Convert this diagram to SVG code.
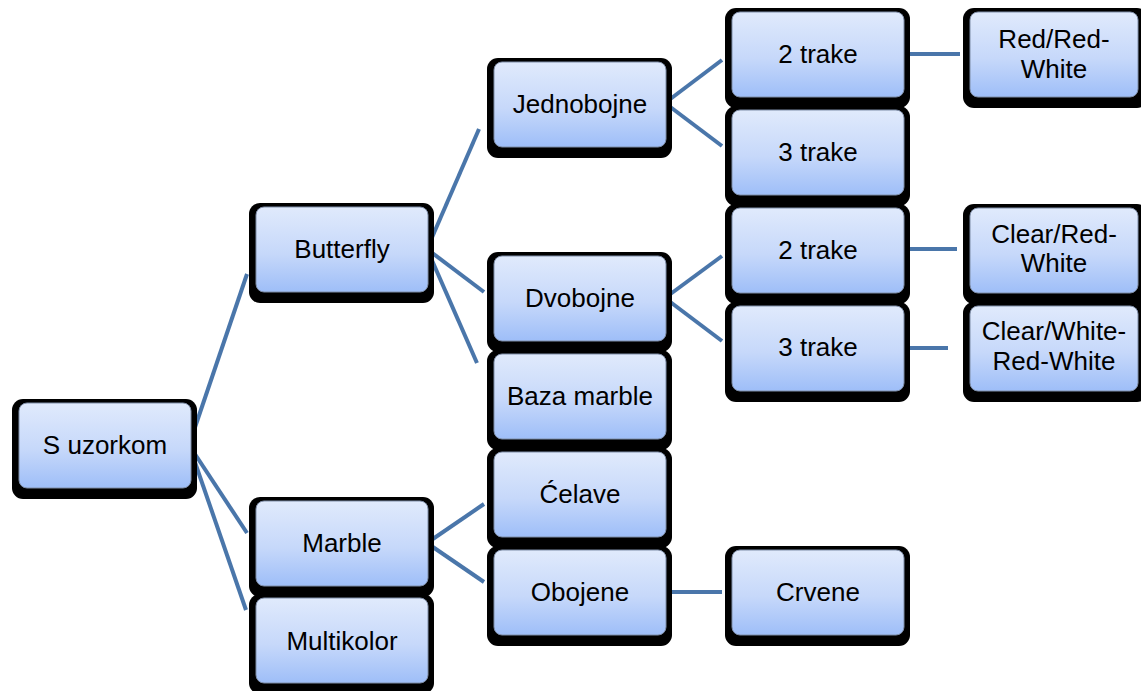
<svg xmlns="http://www.w3.org/2000/svg" width="1141" height="691" viewBox="0 0 1141 691">
<defs>
<linearGradient id="g" x1="0" y1="0" x2="0" y2="1">
<stop offset="0" stop-color="#e0eafc"/>
<stop offset="0.55" stop-color="#c6d8fa"/>
<stop offset="1" stop-color="#9ebef8"/>
</linearGradient>
<style>
.sh{fill:#000;}
.box{fill:url(#g);stroke:#7f8ea8;stroke-width:1;}
.t{font-family:"Liberation Sans",Arial,sans-serif;font-size:26px;fill:#000;text-anchor:middle;}
.c{stroke:#4a76aa;stroke-width:4;fill:none;stroke-linecap:butt;}
</style>
</defs>
<rect width="1141" height="691" fill="#fff"/>
<g id="connectors">
<line class="c" x1="189" y1="445" x2="247" y2="274"/>
<line class="c" x1="189" y1="445" x2="247" y2="533"/>
<line class="c" x1="189" y1="445" x2="246" y2="610"/>
<line class="c" x1="427" y1="249" x2="479" y2="129"/>
<line class="c" x1="427" y1="249" x2="484" y2="292"/>
<line class="c" x1="427" y1="249" x2="477" y2="363"/>
<line class="c" x1="427" y1="543" x2="484" y2="504"/>
<line class="c" x1="427" y1="543" x2="484" y2="582"/>
<line class="c" x1="665" y1="103" x2="722" y2="60"/>
<line class="c" x1="665" y1="103" x2="722" y2="146"/>
<line class="c" x1="665" y1="298" x2="722" y2="256"/>
<line class="c" x1="665" y1="298" x2="722" y2="341"/>
<line class="c" x1="904" y1="54" x2="960" y2="54"/>
<line class="c" x1="904" y1="249" x2="957" y2="249"/>
<line class="c" x1="904" y1="348" x2="948" y2="348"/>
<line class="c" x1="666" y1="592" x2="722" y2="592"/>
</g>
<g id="n-suzorkom"><rect class="sh" x="12" y="399" width="185" height="100" rx="11"/><rect class="box" x="19" y="403" width="172" height="85" rx="8"/><text class="t" x="105" y="454">S uzorkom</text></g>
<g id="n-butterfly"><rect class="sh" x="249" y="203" width="185" height="100" rx="11"/><rect class="box" x="256" y="207" width="172" height="85" rx="8"/><text class="t" x="342" y="258">Butterfly</text></g>
<g id="n-marble"><rect class="sh" x="249" y="497" width="185" height="100" rx="11"/><rect class="box" x="256" y="501" width="172" height="85" rx="8"/><text class="t" x="342" y="552">Marble</text></g>
<g id="n-multikolor"><rect class="sh" x="249" y="594" width="185" height="100" rx="11"/><rect class="box" x="256" y="598" width="172" height="85" rx="8"/><text class="t" x="342" y="650">Multikolor</text></g>
<g id="n-jednobojne"><rect class="sh" x="487" y="58" width="185" height="100" rx="11"/><rect class="box" x="494" y="62" width="172" height="85" rx="8"/><text class="t" x="580" y="113">Jednobojne</text></g>
<g id="n-dvobojne"><rect class="sh" x="487" y="252" width="185" height="100" rx="11"/><rect class="box" x="494" y="256" width="172" height="85" rx="8"/><text class="t" x="580" y="307">Dvobojne</text></g>
<g id="n-bazamarble"><rect class="sh" x="487" y="350" width="185" height="100" rx="11"/><rect class="box" x="494" y="354" width="172" height="85" rx="8"/><text class="t" x="580" y="405">Baza marble</text></g>
<g id="n-celave"><rect class="sh" x="487" y="448" width="185" height="100" rx="11"/><rect class="box" x="494" y="452" width="172" height="85" rx="8"/><text class="t" x="580" y="503">Ćelave</text></g>
<g id="n-obojene"><rect class="sh" x="487" y="546" width="185" height="100" rx="11"/><rect class="box" x="494" y="550" width="172" height="85" rx="8"/><text class="t" x="580" y="601">Obojene</text></g>
<g id="n-2trake-a"><rect class="sh" x="725" y="8" width="185" height="100" rx="11"/><rect class="box" x="732" y="12" width="172" height="85" rx="8"/><text class="t" x="818" y="63">2 trake</text></g>
<g id="n-3trake-a"><rect class="sh" x="725" y="106" width="185" height="100" rx="11"/><rect class="box" x="732" y="110" width="172" height="85" rx="8"/><text class="t" x="818" y="161">3 trake</text></g>
<g id="n-2trake-b"><rect class="sh" x="725" y="204" width="185" height="100" rx="11"/><rect class="box" x="732" y="208" width="172" height="85" rx="8"/><text class="t" x="818" y="259">2 trake</text></g>
<g id="n-3trake-b"><rect class="sh" x="725" y="302" width="185" height="100" rx="11"/><rect class="box" x="732" y="306" width="172" height="85" rx="8"/><text class="t" x="818" y="356">3 trake</text></g>
<g id="n-crvene"><rect class="sh" x="725" y="546" width="185" height="100" rx="11"/><rect class="box" x="732" y="550" width="172" height="85" rx="8"/><text class="t" x="818" y="601">Crvene</text></g>
<g id="n-redredwhite"><rect class="sh" x="963" y="8" width="185" height="100" rx="11"/><rect class="box" x="970" y="12" width="168" height="85" rx="8"/><text class="t" x="1054" y="48">Red/Red-</text><text class="t" x="1054" y="78">White</text></g>
<g id="n-clearredwhite"><rect class="sh" x="963" y="204" width="185" height="100" rx="11"/><rect class="box" x="970" y="208" width="168" height="85" rx="8"/><text class="t" x="1054" y="243">Clear/Red-</text><text class="t" x="1054" y="272">White</text></g>
<g id="n-clearwhiteredwhite"><rect class="sh" x="963" y="302" width="185" height="100" rx="11"/><rect class="box" x="970" y="306" width="168" height="85" rx="8"/><text class="t" x="1054" y="340">Clear/White-</text><text class="t" x="1054" y="370">Red-White</text></g>
</svg>
